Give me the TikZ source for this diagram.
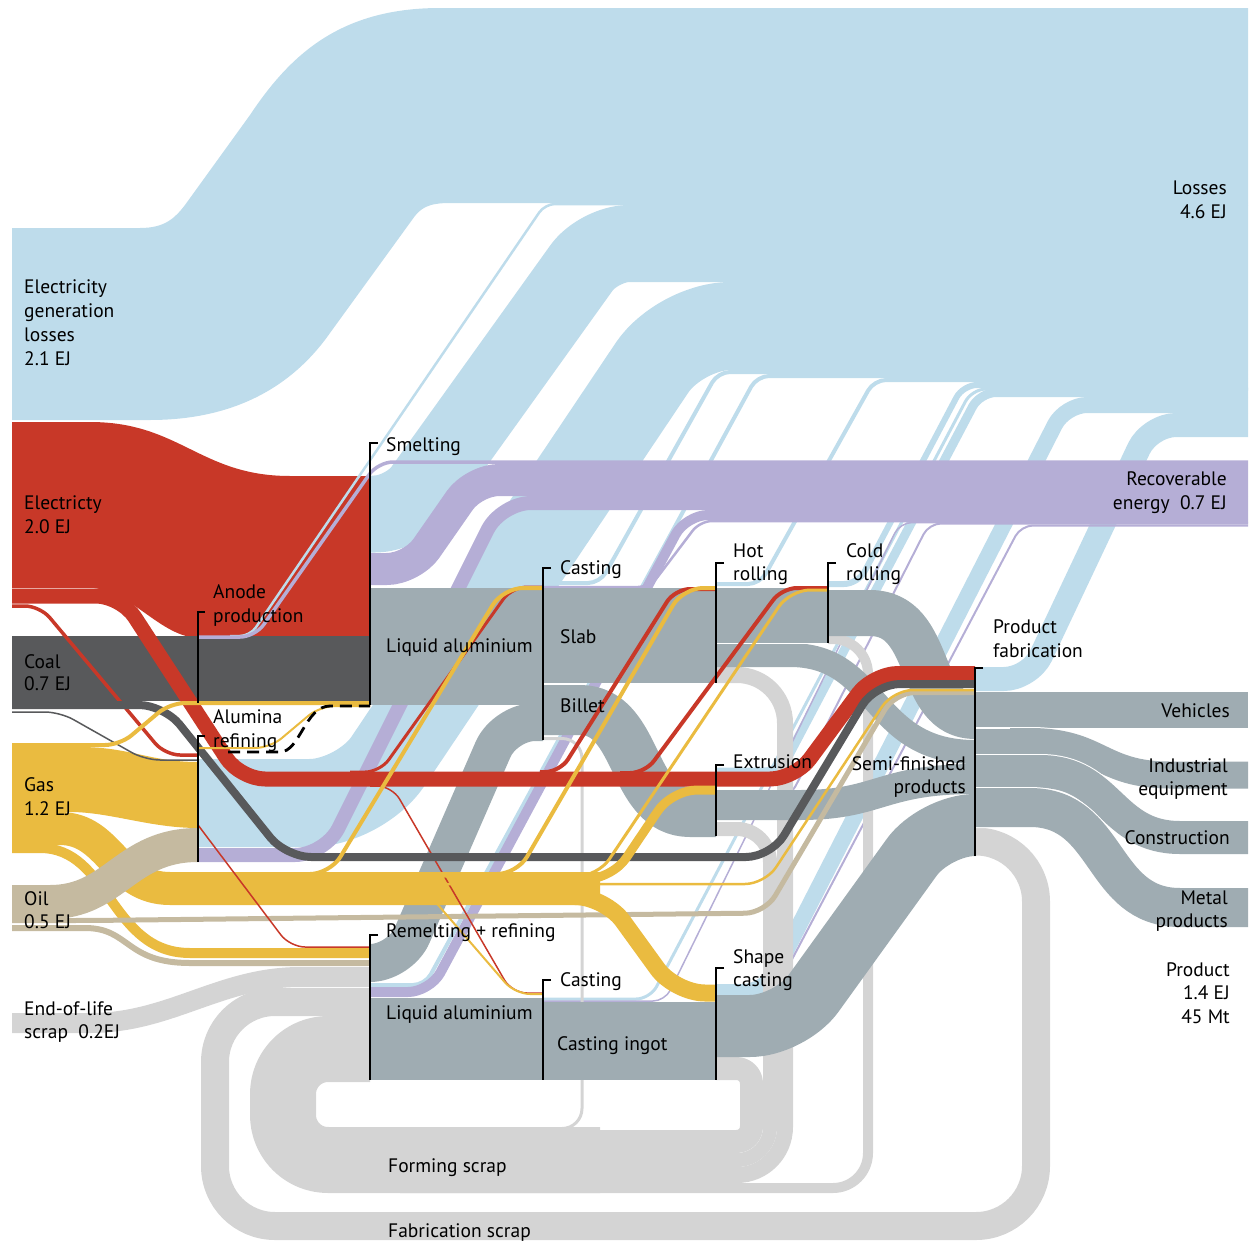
\documentclass[tikz,border=0pt]{standalone}
\usepackage{fontspec}
\setmainfont{PT Sans}
\definecolor{lossblue}{RGB}{190,220,235}
\definecolor{recov}{RGB}{181,174,214}
\definecolor{elec}{RGB}{200,56,40}
\definecolor{coalc}{RGB}{88,89,91}
\definecolor{gasc}{RGB}{234,187,64}
\definecolor{oilc}{RGB}{197,186,160}
\definecolor{alu}{RGB}{159,172,178}
\definecolor{scrapc}{RGB}{212,212,212}
\tikzset{
  flow/.style={line cap=butt, line join=round},
  lbl/.style={font=\fontsize{19.5pt}{24pt}\selectfont, inner sep=0pt, anchor=base west},
  rlbl/.style={font=\fontsize{19.5pt}{24pt}\selectfont, inner sep=0pt, anchor=base east},
  bracket/.style={line width=1.8pt, black, line cap=butt},
  seam/.style={white, line width=1pt},
}
\begin{document}
\begin{tikzpicture}[x=1pt,y=-1pt]
\useasboundingbox (0,0) rectangle (1254,1242);

% ---------------- losses (light blue) ----------------
\fill[lossblue] (12,228) -- (140,228) .. controls (165,228) and (175,218) .. (185,205)
  -- (250,115) .. controls (290,55) and (340,8) .. (440,8) -- (1248,8) -- (1248,203)
  -- (450,203) .. controls (428,203) and (420,208) .. (412,220) -- (330,333)
  .. controls (290,390) and (230,420) .. (150,420) -- (12,420) -- cycle;
\begin{scope}[draw=lossblue, flow]
  \draw[line width=77pt, rounded corners=30pt] (370,514) -- (405,514) -- (599,243.5) -- (1248,243.5);
  \draw[line width=88pt, rounded corners=50pt] (198,803) -- (360,803) -- (680,326) -- (1248,326);
  \draw[line width=4pt, rounded corners=12pt] (543,583) -- (600,583) -- (718,372) -- (1248,372);
  \draw[line width=4pt, rounded corners=12pt] (370,985) -- (425,985) -- (757,376) -- (1248,376);
  \draw[line width=4pt, rounded corners=12pt] (716,584) -- (760,584) -- (874,380) -- (1248,380);
  \draw[line width=6pt, rounded corners=14pt] (828,584) -- (858,584) -- (963,385) -- (1248,385);
  \draw[line width=3pt, rounded corners=14pt] (543,999) -- (650,999) -- (972,389) -- (1248,389);
  \draw[line width=9pt, rounded corners=16pt] (716,772) -- (780,772) -- (980,392.5) -- (1248,392.5);
  \draw[line width=16pt, rounded corners=22pt] (716,992) -- (765,992) -- (1065,405) -- (1248,405);
  \draw[line width=24pt, rounded corners=26pt] (975,679) -- (1030,679) -- (1150,425) -- (1248,425);
\end{scope}

% ---------------- recoverable energy (purple) ----------------
\begin{scope}[draw=recov, flow]
  \draw[line width=32pt, rounded corners=25pt] (370,569) -- (412,569) -- (474,480) -- (1248,480);
  \draw[line width=14pt, rounded corners=30pt] (198,855) -- (325,855) -- (501,503) -- (1248,503);
  \draw[line width=10pt, rounded corners=22pt] (370,992) -- (430,992) -- (686,515) -- (1248,515);
  \draw[line width=2.5pt, rounded corners=12pt] (543,587) -- (650,587) -- (700,521) -- (1248,521);
  \draw[line width=1.5pt, rounded corners=12pt] (543,1001) -- (665,1001) -- (900,522.5) -- (1248,522.5);
  \draw[line width=2pt, rounded corners=12pt] (716,797) -- (790,797) -- (929,523.5) -- (1248,523.5);
  \draw[line width=2pt, rounded corners=12pt] (716,1001) -- (770,1001) -- (1021,525.5) -- (1248,525.5);
\end{scope}

% ---------------- scrap (light grey) ----------------
\begin{scope}[draw=scrapc, flow]
  % end-of-life scrap
  \draw[line width=20pt] (12,1023) -- (90,1023) .. controls (170,1023) and (220,977) .. (300,977) -- (370,977);
  % fabrication scrap loop
  \draw[line width=28pt, rounded corners=60pt] (975,841.5) -- (1036,841.5) -- (1036,1226) -- (215,1226) -- (215,1002) -- (370,1002);
  % forming scrap trunk
  \draw[line width=66pt, rounded corners=45pt] (370,1049) -- (283,1049) -- (283,1160) -- (600,1160);
  % forming scrap returns
  \draw[line width=10pt, rounded corners=35pt] (828,639) -- (868,639) -- (868,1188) -- (400,1188);
  \draw[line width=16pt, rounded corners=48pt] (716,675) -- (785,675) -- (785,1175) -- (400,1175);
  \draw[line width=14pt, rounded corners=33pt] (716,829) -- (770,829) -- (770,1160) -- (400,1160);
  \draw[line width=23pt, rounded corners=15pt] (716,1068.5) -- (751.5,1068.5) -- (751.5,1141.5) -- (400,1141.5);
  \draw[line width=3pt, rounded corners=20pt] (543,738.5) -- (582,738.5) -- (582,1128.5) -- (400,1128.5);
\end{scope}

% ---------------- aluminium (grey) ----------------
\begin{scope}[alu]
  \fill (370,588) rectangle (543,705);
  \fill (543,588) rectangle (716,683);
  \fill (716,588) rectangle (828,643);
  \fill (370,998) rectangle (543,1080);
  \fill (543,1002) rectangle (716,1080);
  \fill (975,692) rectangle (1248,728);
\end{scope}
\begin{scope}[draw=alu, flow]
  \draw[line width=50pt] (543,710) -- (580,710) .. controls (640,710) and (630,812) .. (690,812) -- (716,812);
  \draw[line width=38pt, rounded corners=30pt] (370,963) -- (400,963) -- (505,722) -- (543,722);
  \draw[line width=46pt] (828,613) -- (870,613) .. controls (935,613) and (915,716) .. (975,716);
  \draw[line width=24pt] (716,655) -- (790,655) .. controls (880,655) and (870,752) .. (975,752);
  \draw[line width=30pt] (716,805) -- (800,805) .. controls (880,805) and (880,779) .. (975,779);
  \draw[line width=62pt, rounded corners=40pt] (716,1026) -- (790,1026) -- (935,825) -- (975,825);
  % end uses, each edged by a thin white seam
  \draw[white, line width=29pt] (975,741.5) -- (1030,741.5) .. controls (1100,741.5) and (1100,775) .. (1170,775) -- (1248,775);
  \draw[line width=27pt] (975,741.5) -- (1030,741.5) .. controls (1100,741.5) and (1100,775) .. (1170,775) -- (1248,775);
  \draw[white, line width=35pt] (975,771.5) -- (1040,771.5) .. controls (1110,771.5) and (1110,837.5) .. (1180,837.5) -- (1248,837.5);
  \draw[line width=33pt] (975,771.5) -- (1040,771.5) .. controls (1110,771.5) and (1110,837.5) .. (1180,837.5) -- (1248,837.5);
  \draw[white, line width=41pt] (975,807.5) -- (1030,807.5) .. controls (1110,807.5) and (1100,907.5) .. (1180,907.5) -- (1248,907.5);
  \draw[line width=39pt] (975,807.5) -- (1030,807.5) .. controls (1110,807.5) and (1100,907.5) .. (1180,907.5) -- (1248,907.5);
\end{scope}
% seams between neighbouring grey streams
\draw[seam] (716,643) -- (828,643);
\draw[seam] (543,683.5) -- (575,683.5);
\draw[seam] (975,728) -- (1010,728);

% ---------------- energy inputs ----------------
% electricity block
\fill[elec] (12,422) -- (90,422) .. controls (180,422) and (200,476) .. (290,476) -- (370,476)
  -- (370,638) -- (200,638) .. controls (160,638) and (130,588) .. (90,588) -- (12,588) -- cycle;
% coal block
\fill[coalc] (12,636) rectangle (370,701);
% gas block to alumina refining
\fill[gasc] (12,747) -- (80,747) .. controls (130,747) and (150,762) .. (198,762) -- (198,828)
  .. controls (150,828) and (110,812) .. (70,812) -- (12,812) -- cycle;
\begin{scope}[flow]
  % gas bands
  \draw[gasc, line width=33pt] (12,828.5) -- (60,828.5) .. controls (110,828.5) and (115,888.5) .. (170,888.5) -- (600,888.5);
  \draw[gasc, line width=10pt] (12,848) -- (40,848) .. controls (110,848) and (110,953) .. (190,953) -- (370,953);
  % oil bands
  \draw[oilc, line width=34pt] (12,902) -- (50,902) .. controls (115,902) and (125,845) .. (198,845);
  \draw[oilc, line width=5pt, rounded corners=20pt] (12,920.5) -- (90,920.5) -- (765,913) -- (895,692.5) -- (975,692.5);
  \draw[oilc, line width=6pt] (12,928) -- (85,928) .. controls (130,928) and (125,963) .. (190,963) -- (370,963);
  % electricity bands
  \draw[elec, line width=15pt, rounded corners=25pt] (12,596) -- (121,596) -- (240,779) -- (795,779) -- (873,673.5) -- (975,673.5);
  \draw[elec, line width=3.5pt, rounded corners=15pt] (12,606) -- (40,606) -- (165,755) -- (198,755);
  \draw[elec, line width=3pt, rounded corners=15pt] (350,772) -- (380,772) -- (512,587) -- (543,587);
  \draw[elec, line width=4pt, rounded corners=15pt] (540,772) -- (560,772) -- (675,589) -- (716,589);
  \draw[elec, line width=4pt, rounded corners=15pt] (620,773) -- (645,773) -- (782,588) -- (828,588);
  \draw[elec, line width=1.5pt, rounded corners=15pt] (370,786) -- (392,786) -- (512,993) -- (543,993);
  \draw[elec, line width=1.5pt, rounded corners=15pt] (198,825) -- (290,947) -- (370,947);
  % coal bands
  \draw[coalc, line width=8pt, rounded corners=25pt] (12,705) -- (164,705) -- (286,857) -- (771,857) -- (875,684) -- (975,684);
  \draw[coalc, line width=1.5pt, rounded corners=15pt] (12,712) -- (60,712) -- (145,760) -- (198,760);
  % gas branches
  \draw[gasc, line width=17pt, rounded corners=30pt] (580,896.5) -- (605,896.5) -- (675,993) -- (716,993);
  \draw[gasc, line width=9pt, rounded corners=25pt] (580,879) -- (612,879) -- (672,790) -- (716,790);
  \draw[gasc, line width=4pt, rounded corners=20pt] (400,874) -- (517,874) -- (683,588) -- (716,588);
  \draw[gasc, line width=3pt, rounded corners=20pt] (400,876) -- (598,876) -- (790,590) -- (828,590);
  \draw[gasc, line width=4pt, rounded corners=20pt] (300,874) -- (330,874) -- (503,588) -- (543,588);
  \draw[gasc, line width=2.5pt, rounded corners=20pt] (400,884) -- (765,884) -- (893,690) -- (975,690);
  \draw[gasc, line width=4pt, rounded corners=15pt] (12,745) -- (120,745) -- (170,703) -- (370,703);
  \draw[gasc, line width=2pt, rounded corners=15pt] (198,748) -- (270,748) -- (320,706) -- (370,706);
  \draw[gasc, line width=2pt, rounded corners=15pt] (400,884) -- (420,884) -- (515,994) -- (543,994);
  % anode production outputs
  \draw[lossblue, line width=2.5pt, rounded corners=10pt] (230,636) -- (250,636) -- (545,204) -- (1248,204);
  \draw[recov, line width=3.5pt, rounded corners=15pt] (198,637) -- (255,637) -- (378,462) -- (1248,462);
\end{scope}

% alumina to smelting
\draw[black, line width=2.8pt, dash pattern=on 12pt off 7pt] (228,752) -- (280,752)
  .. controls (300,752) and (305,706) .. (330,706) -- (370,706);

% ---------------- process brackets ----------------
\draw[bracket] (205,612) -- (198,612) -- (198,703);
\draw[bracket] (205,736) -- (198,736) -- (198,862);
\draw[bracket] (378,443) -- (370,443) -- (370,705);
\draw[bracket] (551,568) -- (543,568) -- (543,740);
\draw[bracket] (724,563) -- (716,563) -- (716,683);
\draw[bracket] (836,563) -- (828,563) -- (828,643);
\draw[bracket] (724,765) -- (716,765) -- (716,836);
\draw[bracket] (983,668) -- (975,668) -- (975,856);
\draw[bracket] (378,935) -- (370,935) -- (370,1080);
\draw[bracket] (551,980) -- (543,980) -- (543,1080);
\draw[bracket] (724,968) -- (716,968) -- (716,1080);

% ---------------- labels ----------------
\node[lbl] (egl1) at (24,293) {Electricity};
\node[lbl] (egl2) at (24,317) {generation};
\node[lbl] (egl3) at (24,341) {losses};
\node[lbl] (egl4) at (24,365) {2.1 EJ};
\node[lbl] (el1) at (24,509) {Electricty};
\node[lbl] (el2) at (24,533) {2.0 EJ};
\node[lbl] (co1) at (24,668) {Coal};
\node[lbl] (co2) at (24,690) {0.7 EJ};
\node[lbl] (ga1) at (24,791) {Gas};
\node[lbl] (ga2) at (24,815) {1.2 EJ};
\node[lbl] (oi1) at (24,905) {Oil};
\node[lbl] (oi2) at (24,928) {0.5 EJ};
\node[lbl] (eo1) at (24,1015) {End-of-life};
\node[lbl] (eo2) at (24,1038) {scrap\ \ 0.2EJ};

\node[rlbl] (lo1) at (1227,194) {Losses};
\node[rlbl] (lo2) at (1227,218) {4.6 EJ};
\node[rlbl] (re1) at (1227,485) {Recoverable};
\node[rlbl] (re2) at (1227,509) {energy\ \ 0.7 EJ};
\node[rlbl] (ve) at (1230,717) {Vehicles};
\node[rlbl] (in1) at (1228,772) {Industrial};
\node[rlbl] (in2) at (1228,795) {equipment};
\node[rlbl] (cn) at (1230,844) {Construction};
\node[rlbl] (me1) at (1228,904) {Metal};
\node[rlbl] (me2) at (1228,927) {products};
\node[rlbl] (pr1) at (1230,976) {Product};
\node[rlbl] (pr2) at (1230,999) {1.4 EJ};
\node[rlbl] (pr3) at (1230,1023) {45 Mt};
\node[rlbl] (sf1) at (966,770) {Semi-finished};
\node[rlbl] (sf2) at (966,793) {products};

\node[lbl] (sm) at (386,451) {Smelting};
\node[lbl] (an1) at (213,598) {Anode};
\node[lbl] (an2) at (213,622) {production};
\node[lbl] (al1) at (213,723) {Alumina};
\node[lbl] (al2) at (213,747) {refining};
\node[lbl] (la1) at (386,652) {Liquid aluminium};
\node[lbl] (ca1) at (560,574) {Casting};
\node[lbl] (sl) at (560,643) {Slab};
\node[lbl] (bi) at (560,712) {Billet};
\node[lbl] (hr1) at (733,557) {Hot};
\node[lbl] (hr2) at (733,580) {rolling};
\node[lbl] (cr1) at (846,557) {Cold};
\node[lbl] (cr2) at (846,580) {rolling};
\node[lbl] (ex) at (733,768) {Extrusion};
\node[lbl] (pf1) at (993,633) {Product};
\node[lbl] (pf2) at (993,657) {fabrication};
\node[lbl] (rm) at (386,937) {Remelting + refining};
\node[lbl] (la2) at (386,1019) {Liquid aluminium};
\node[lbl] (ca2) at (560,986) {Casting};
\node[lbl] (ci) at (557,1050) {Casting ingot};
\node[lbl] (sc1) at (733,963) {Shape};
\node[lbl] (sc2) at (733,986) {casting};
\node[lbl] (fs) at (388,1172) {Forming scrap};
\node[lbl] (fb) at (388,1237) {Fabrication scrap};
\end{tikzpicture}
\end{document}
